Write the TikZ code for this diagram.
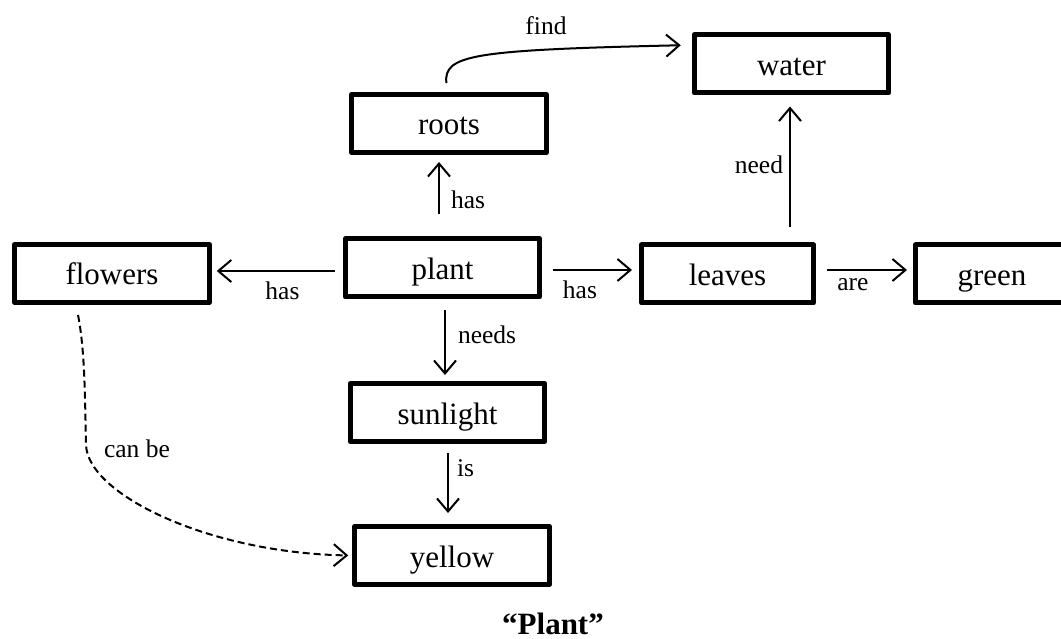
\documentclass[tikz,border=0pt]{standalone}
\usepackage{fontspec}
\setmainfont{Liberation Serif}
\usetikzlibrary{arrows.meta}
\begin{document}
\begin{tikzpicture}[x=1pt,y=-1pt,
  box/.style={draw, line width=5pt, line join=round, minimum width=194.5pt,
    minimum height=58pt, inner sep=0pt, text height=23pt, text depth=0pt,
    font=\fontsize{31}{37}\selectfont},
  arr/.style={line width=2pt, -{Straight Barb[length=13pt,width=22pt,line width=2pt]}},
  lbl/.style={font=\fontsize{25.5}{30}\selectfont, inner sep=0pt},
  dsh/.style={dash pattern=on 7pt off 4pt},
]
\useasboundingbox (0,0) rectangle (1061,639);
\clip (0,0) rectangle (1061,639);

\node[box] (water) at (791.5,64) {water};
\node[box] (roots) at (449,123.5) {roots};
\node[box] (flowers) at (112,273.5) {flowers};
\node[box] (plant) at (442.5,268) {plant};
\node[box, minimum width=172pt] (leaves) at (727.5,274) {leaves};
\node[box, minimum width=153pt] (green) at (992,274) {green};
\node[box] (sunlight) at (447.5,412.5) {sunlight};
\node[box] (yellow) at (452,555.5) {yellow};
\node[font=\bfseries\fontsize{31}{37}\selectfont, inner sep=0pt, anchor=base] (title) at (553,634) {“Plant”};

% plant -> flowers
\draw[arr, shorten <=8pt, shorten >=5pt] ([yshift=-3pt]plant.west) -- ([yshift=-3pt]plant.west -| flowers.east)
  node[lbl, pos=0.46, below=10pt] {has};
% plant -> leaves
\draw[arr, shorten <=11pt, shorten >=7pt] ([yshift=-2pt]plant.east) -- ([yshift=-2pt]plant.east -| leaves.west)
  node[lbl, pos=0.39, below=10pt] {has};
% leaves -> green
\draw[arr, shorten <=11pt, shorten >=6pt] ([yshift=4pt]leaves.east) -- ([yshift=4pt]green.west)
  node[lbl, pos=0.38, below=7pt] {are};
% plant -> roots
\draw[arr, shorten <=22pt, shorten >=7pt] ([xshift=-3.5pt]plant.north) -- ([xshift=-3.5pt]plant.north |- roots.south)
  node[lbl, pos=0.45, right=11pt] {has};
% plant -> sunlight
\draw[arr, shorten <=11pt, shorten >=6pt] ([xshift=2.5pt]plant.south) -- ([xshift=2.5pt]plant.south |- sunlight.north)
  node[lbl, pos=0.43, right=12pt] {needs};
% sunlight -> yellow
\draw[arr, shorten <=9pt, shorten >=11pt] ([xshift=0.5pt]sunlight.south) -- ([xshift=0.5pt]sunlight.south |- yellow.north)
  node[lbl, pos=0.3, right=8pt] {is};
% leaves -> water
\draw[arr, shorten <=15pt, shorten >=11pt] ([xshift=-1.5pt]water.south |- leaves.north) -- ([xshift=-1.5pt]water.south)
  node[lbl, pos=0.53, left=6pt] {need};
% roots -> water
\draw[arr, shorten <=9pt, shorten >=11pt] ([xshift=-2pt]roots.north) .. controls (444,55) and (470,50) .. ([yshift=19pt]water.west)
  node[lbl, pos=0.715, above=14pt] {find};
% flowers -> yellow (dashed)
\draw[arr, dsh, shorten >=4pt] ([xshift=-34pt,yshift=-10pt]flowers.south) .. controls (85,350) and (85,400) .. (86,445)
  node[lbl, anchor=west, xshift=17pt, yshift=-4pt] {can be}
  .. controls (88,495) and (210,553) .. (yellow.west);
\end{tikzpicture}
\end{document}
